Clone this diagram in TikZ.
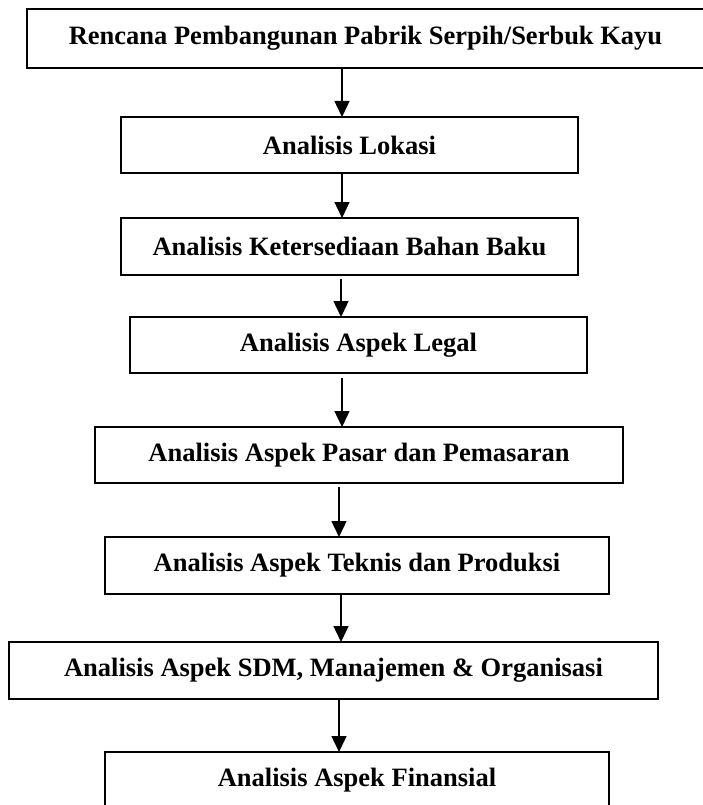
\documentclass[tikz,border=0pt]{standalone}
\usepackage{fontspec}
\setmainfont{Liberation Serif}
\usetikzlibrary{arrows.meta}
\begin{document}
\begin{tikzpicture}[x=1pt,y=-1pt,
  box/.style={draw, line width=1.4pt, rectangle, inner sep=0pt, outer sep=0pt,
    font=\fontsize{26.5}{30}\selectfont\bfseries, align=center},
  arr/.style={line width=1.4pt, -{Triangle[length=16pt,width=15pt]}}]
\useasboundingbox (0,0) rectangle (702,805);
\node[box, minimum width=677pt, minimum height=59pt] (n1) at (365.5,38.5) {Rencana Pembangunan Pabrik Serpih/Serbuk Kayu};
\node[box, minimum width=457pt, minimum height=56pt] (n2) at (349.5,145) {Analisis Lokasi};
\node[box, minimum width=457pt, minimum height=57pt] (n3) at (349.5,246.5) {Analisis Ketersediaan Bahan Baku};
\node[box, minimum width=457pt, minimum height=56pt] (n4) at (358.5,345) {Analisis Aspek Legal};
\node[box, minimum width=528pt, minimum height=56pt] (n5) at (359,455) {Analisis Aspek Pasar dan Pemasaran};
\node[box, minimum width=504pt, minimum height=57pt] (n6) at (357,565.5) {Analisis Aspek Teknis dan Produksi};
\node[box, minimum width=649pt, minimum height=57pt] (n7) at (333.5,670.5) {Analisis Aspek SDM, Manajemen \& Organisasi};
\node[box, minimum width=504pt, minimum height=57pt] (n8) at (357,780.5) {Analisis Aspek Finansial};
\coordinate (xa) at (342,0);
\coordinate (xb) at (341,0);
\coordinate (xc) at (339,0);
\draw[arr] (n1.south -| xa) -- (n2.north -| xa);
\draw[arr] (n2.south -| xa) -- (n3.north -| xa);
\draw[arr, shorten <=4pt] (n3.south -| xb) -- (n4.north -| xb);
\draw[arr, shorten <=5pt] (n4.south -| xa) -- (n5.north -| xa);
\draw[arr, shorten <=4pt] (n5.south -| xc) -- (n6.north -| xc);
\draw[arr] (n6.south -| xb) -- (n7.north -| xb);
\draw[arr] (n7.south -| xc) -- (n8.north -| xc);
\end{tikzpicture}
\end{document}
